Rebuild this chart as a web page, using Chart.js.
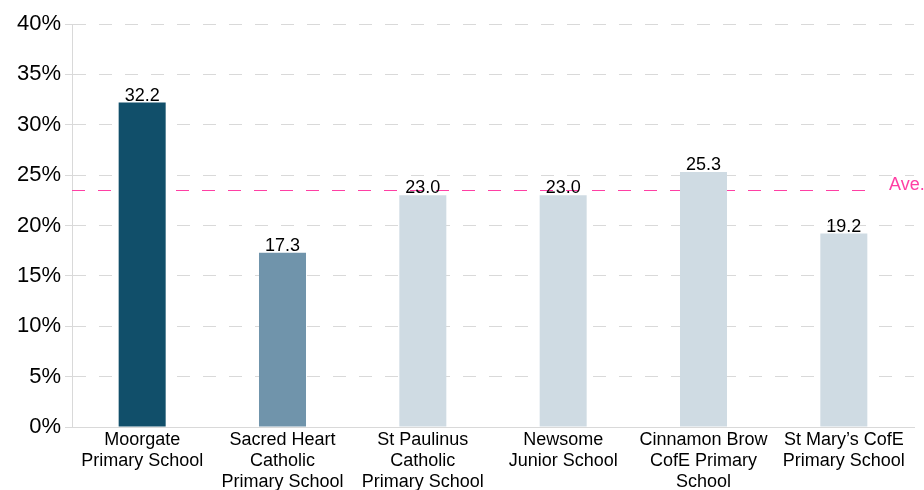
<!DOCTYPE html>
<html>
<head>
<meta charset="utf-8">
<script src="https://cdn.jsdelivr.net/npm/chart.js@4"></script>
<style>
  html, body { margin: 0; padding: 0; background: #fff; }
  #wrap { width: 924px; height: 490px; }
</style>
</head>
<body>
<div id="wrap"><canvas id="chart"></canvas></div>
<script>
'use strict';
var schools = [
    [ 'Moorgate', 'Primary School' ],
    [ 'Sacred Heart', 'Catholic', 'Primary School' ],
    [ 'St Paulinus', 'Catholic', 'Primary School' ],
    [ 'Newsome', 'Junior School' ],
    [ 'Cinnamon Brow', 'CofE Primary', 'School' ],
    [ 'St Mary\u2019s CofE', 'Primary School' ]
];
var values = [ 32.2, 17.3, 23.0, 23.0, 25.3, 19.2 ];
var average = 23.5;
var averageLabel = 'Ave.';
var barColors = [ '#114f6a', '#7094ab', '#cfdbe3', '#cfdbe3', '#cfdbe3', '#cfdbe3' ];

Chart.defaults.font.family = '"Liberation Sans", Arial, sans-serif';
Chart.defaults.color = '#000';

// value labels on top of each bar
var valueLabels = {
    id: 'valueLabels',
    afterDatasetsDraw: function( chart ) {
        var ctx = chart.ctx;
        var meta = chart.getDatasetMeta( 0 );
        ctx.save();
        ctx.font = '18px "Liberation Sans", Arial, sans-serif';
        ctx.fillStyle = '#000';
        ctx.textAlign = 'center';
        ctx.textBaseline = 'bottom';
        meta.data.forEach( function( bar, i ) {
            ctx.fillText( values[ i ].toFixed( 1 ), bar.x, bar.y + 2 );
        });
        ctx.restore();
    }
};

// dashed average line, drawn under the bars
var averageLine = {
    id: 'averageLine',
    beforeDatasetsDraw: function( chart ) {
        var ctx = chart.ctx;
        var area = chart.chartArea;
        var y = Math.round( chart.scales.y.getPixelForValue( average ) ) + 0.5;
        ctx.save();
        ctx.strokeStyle = '#ff3fa4';
        ctx.lineWidth = 1;
        ctx.setLineDash( [ 13, 13 ] );
        ctx.beginPath();
        ctx.moveTo( area.left, y );
        ctx.lineTo( area.right - 36, y );
        ctx.stroke();
        ctx.font = '18px "Liberation Sans", Arial, sans-serif';
        ctx.fillStyle = '#ff3fa4';
        ctx.textAlign = 'left';
        ctx.textBaseline = 'bottom';
        ctx.fillText( averageLabel, area.right - 25, y + 4 );
        ctx.restore();
    }
};

new Chart( document.getElementById( 'chart' ), {
    type: 'bar',
    data: {
        labels: schools,
        datasets: [
            {
                data: values,
                backgroundColor: barColors,
                barPercentage: 0.67,
                categoryPercentage: 0.5
            }
        ]
    },
    options: {
        responsive: true,
        maintainAspectRatio: false,
        animation: false,
        layout: { padding: { top: 24, right: 10, left: 0, bottom: 0 } },
        plugins: {
            legend: { display: false },
            tooltip: { enabled: false }
        },
        scales: {
            x: {
                grid: { display: false, drawTicks: false },
                border: { display: true, color: '#d9d9d9' },
                ticks: {
                    font: { size: 18, lineHeight: 1.18 },
                    color: '#000',
                    maxRotation: 0,
                    autoSkip: false,
                    padding: 2
                },
                afterFit: function( scale ) { scale.height = 63; }
            },
            y: {
                min: 0,
                max: 40,
                ticks: {
                    stepSize: 5,
                    font: { size: 22 },
                    color: '#000',
                    padding: 4,
                    callback: function( v ) { return v + '%'; }
                },
                grid: {
                    color: '#d9d9d9',
                    tickLength: 7,
                    drawTicks: true
                },
                border: { display: true, color: '#d9d9d9', dash: [ 13, 13 ] },
                afterFit: function( scale ) { scale.width = 72; }
            }
        }
    },
    plugins: [ averageLine, valueLabels ]
});
</script>
</body>
</html>
